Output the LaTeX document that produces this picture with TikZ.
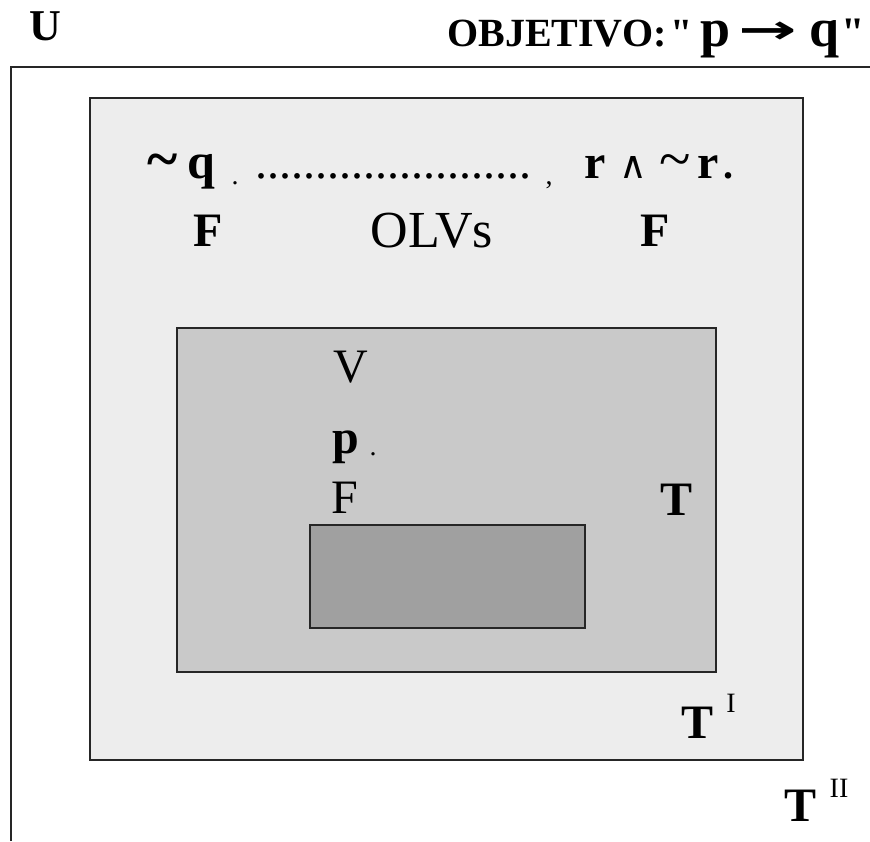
\documentclass[tikz,border=0pt]{standalone}
\usepackage{fontspec}
\setmainfont{Liberation Serif}
\newfontfamily\droit{Liberation Serif}[Ligatures=TeXOff]
\newfontfamily\symb{DejaVu Sans}
\usetikzlibrary{positioning}
\definecolor{grisclair}{HTML}{EDEDED}
\definecolor{grismoyen}{HTML}{C9C9C9}
\definecolor{grisfonce}{HTML}{A0A0A0}
\newcommand{\guil}{{\droit\bfseries\symbol{34}}}
\newcommand{\taille}[1]{\fontsize{#1}{#1}\selectfont}
\tikzset{
  ensemble/.style={draw=black!85,line width=1.6pt},
  gras/.style={inner sep=0pt,font=\taille{48}\bfseries},
  fin/.style={inner sep=0pt,font=\taille{48}},
  petit/.style={inner sep=0pt,font=\taille{28}},
}
\begin{document}
\begin{tikzpicture}[x=1pt,y=-1pt]
% Définition des limites
\def\xmin{0}
\def\xmax{870}
\def\ymin{0}
\def\ymax{841}
\useasboundingbox[fill=white] (\xmin,\ymin) rectangle (\xmax,\ymax);

% Univers U (cadre ouvert)
\draw[ensemble] (11,\ymax) |- (\xmax,67);
\node[gras,font=\taille{44}\bfseries,anchor=base west] (U) at (29,40) {U};
\node[gras,anchor=base west] (objectif) at (447,46)
  {\taille{40}OBJETIVO:\hspace{4pt}\guil\hspace{8pt}\taille{54}p\hspace{8pt}%
   \raisebox{3pt}{\scalebox{1.75}[1]{\symb\bfseries\taille{40}→}}\hspace{12pt}q\hspace{2pt}\taille{42}\guil};

% Ensembles emboîtés
\draw[ensemble,fill=grisclair] (90,98) rectangle (803,760);
\draw[ensemble,fill=grismoyen] (177,328) rectangle (716,672);
\draw[ensemble,fill=grisfonce] (310,525) rectangle (585,628);

% Ligne des prémisses
\node[gras,anchor=base west] (nonq) at (147,178)
  {\taille{58}\textasciitilde\hspace{10pt}\taille{50}q};
\node[petit,anchor=base] (pt1) at (235,184) {.};
\node[fin,anchor=base] (pts) at (393,178) {.......................};
\node[petit,anchor=base] (pt2) at (549,184) {,};
\node[gras,anchor=base west] (contra) at (584,178)
  {r\hspace{14pt}\mdseries{\symb\taille{38}∧}\hspace{12pt}\taille{58}\textasciitilde\hspace{7pt}\bfseries\taille{48}r\hspace{4pt}\taille{40}.};
\node[gras,anchor=base] (F1) at (208,246) {F};
\node[fin,font=\taille{52},anchor=base] (olvs) at (432,247) {OLVs};
\node[gras,anchor=base] (F2) at (655,246) {F};

% Ensemble T
\node[fin,anchor=base] (V) at (351,382) {V};
\node[gras,anchor=base] (p) at (346,453) {p};
\node[petit,anchor=base] (pt3) at (373,455) {.};
\node[fin,anchor=base] (F3) at (345,513) {F};
\node[gras,anchor=base] (T) at (676,515) {T};

% Étiquettes des théories
\node[gras,anchor=base] (TI) at (697,738) {T};
\node[petit,anchor=base] (I) at (731,712) {I};
\node[gras,anchor=base] (TII) at (800,821) {T};
\node[petit,anchor=base] (II) at (839,797) {II};
\end{tikzpicture}
\end{document}
